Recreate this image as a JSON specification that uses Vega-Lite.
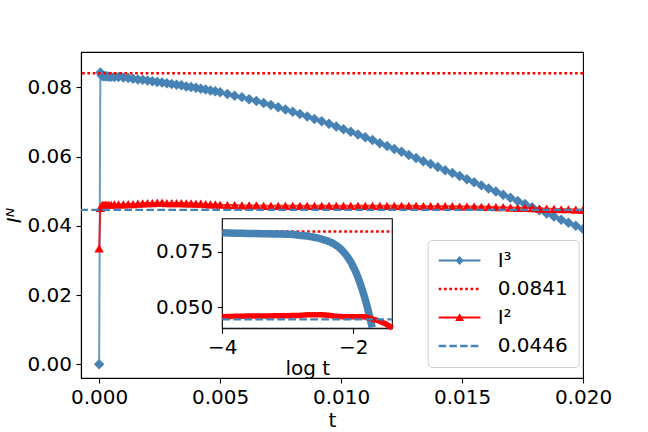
{
  "$schema": "https://vega.github.io/schema/vega-lite/v6.json",
  "width": 502,
  "height": 326,
  "autosize": {"type": "none"},
  "padding": {"left": 81, "top": 52, "right": 65, "bottom": 54},
  "background": "white",
  "datasets": {
    "ts": [
      {"t":0,"b":0,"r":0.0335},
      {"t":0.00005,"b":0.0843,"r":0.0452},
      {"t":0.0001,"b":0.0835,"r":0.0458},
      {"t":0.00013,"b":0.0834,"r":0.0459},
      {"t":0.00016,"b":0.0833,"r":0.046},
      {"t":0.0002,"b":0.0833,"r":0.046},
      {"t":0.00025,"b":0.0832,"r":0.0461},
      {"t":0.00032,"b":0.0832,"r":0.0461},
      {"t":0.0004,"b":0.0831,"r":0.0461},
      {"t":0.0005,"b":0.0831,"r":0.0461},
      {"t":0.00063,"b":0.083,"r":0.0462},
      {"t":0.0008,"b":0.083,"r":0.0462},
      {"t":0.001,"b":0.0829,"r":0.0462},
      {"t":0.0012,"b":0.0827,"r":0.0463},
      {"t":0.0014,"b":0.0825,"r":0.0463},
      {"t":0.0016,"b":0.0823,"r":0.0464},
      {"t":0.0018,"b":0.0822,"r":0.0465},
      {"t":0.002,"b":0.082,"r":0.0466},
      {"t":0.0022,"b":0.0818,"r":0.0466},
      {"t":0.0024,"b":0.0816,"r":0.0467},
      {"t":0.0026,"b":0.0814,"r":0.0467},
      {"t":0.0028,"b":0.0812,"r":0.0466},
      {"t":0.003,"b":0.081,"r":0.0466},
      {"t":0.0032,"b":0.0808,"r":0.0466},
      {"t":0.0034,"b":0.0806,"r":0.0466},
      {"t":0.0036,"b":0.0803,"r":0.0465},
      {"t":0.0038,"b":0.0801,"r":0.0465},
      {"t":0.004,"b":0.0799,"r":0.0464},
      {"t":0.0042,"b":0.0796,"r":0.0464},
      {"t":0.0044,"b":0.0794,"r":0.0463},
      {"t":0.0046,"b":0.0791,"r":0.0462},
      {"t":0.0048,"b":0.0789,"r":0.0462},
      {"t":0.005,"b":0.0786,"r":0.0461},
      {"t":0.0053,"b":0.0781,"r":0.046},
      {"t":0.0056,"b":0.0776,"r":0.046},
      {"t":0.0059,"b":0.0772,"r":0.0459},
      {"t":0.0062,"b":0.0766,"r":0.0459},
      {"t":0.0065,"b":0.0761,"r":0.0459},
      {"t":0.0068,"b":0.0755,"r":0.0458},
      {"t":0.0071,"b":0.0749,"r":0.0458},
      {"t":0.0074,"b":0.0743,"r":0.0458},
      {"t":0.0077,"b":0.0736,"r":0.0458},
      {"t":0.008,"b":0.073,"r":0.0458},
      {"t":0.0083,"b":0.0723,"r":0.0458},
      {"t":0.0086,"b":0.0716,"r":0.0458},
      {"t":0.0089,"b":0.0709,"r":0.0458},
      {"t":0.0092,"b":0.0702,"r":0.0458},
      {"t":0.0095,"b":0.0695,"r":0.0458},
      {"t":0.0098,"b":0.0687,"r":0.0458},
      {"t":0.0101,"b":0.0679,"r":0.0458},
      {"t":0.0104,"b":0.0672,"r":0.0458},
      {"t":0.0107,"b":0.0664,"r":0.0458},
      {"t":0.011,"b":0.0656,"r":0.0458},
      {"t":0.0113,"b":0.0648,"r":0.0458},
      {"t":0.0116,"b":0.0639,"r":0.0458},
      {"t":0.0119,"b":0.0631,"r":0.0458},
      {"t":0.0122,"b":0.0622,"r":0.0458},
      {"t":0.0125,"b":0.0614,"r":0.0458},
      {"t":0.0128,"b":0.0605,"r":0.0458},
      {"t":0.0131,"b":0.0596,"r":0.0458},
      {"t":0.0134,"b":0.0587,"r":0.0457},
      {"t":0.0137,"b":0.0579,"r":0.0457},
      {"t":0.014,"b":0.057,"r":0.0457},
      {"t":0.0143,"b":0.0561,"r":0.0457},
      {"t":0.0146,"b":0.0553,"r":0.0457},
      {"t":0.0149,"b":0.0544,"r":0.0456},
      {"t":0.0152,"b":0.0535,"r":0.0456},
      {"t":0.0155,"b":0.0526,"r":0.0456},
      {"t":0.0158,"b":0.0517,"r":0.0455},
      {"t":0.0161,"b":0.0508,"r":0.0455},
      {"t":0.0164,"b":0.0499,"r":0.0454},
      {"t":0.0167,"b":0.049,"r":0.0454},
      {"t":0.017,"b":0.0481,"r":0.0453},
      {"t":0.0173,"b":0.0472,"r":0.0452},
      {"t":0.0176,"b":0.0463,"r":0.0452},
      {"t":0.0179,"b":0.0454,"r":0.0451},
      {"t":0.0182,"b":0.0445,"r":0.045},
      {"t":0.0185,"b":0.0436,"r":0.045},
      {"t":0.0188,"b":0.0427,"r":0.0449},
      {"t":0.0191,"b":0.0418,"r":0.0448},
      {"t":0.0194,"b":0.0409,"r":0.0448},
      {"t":0.0197,"b":0.04,"r":0.0447},
      {"t":0.02,"b":0.0391,"r":0.0446},
      {"t":0.022,"b":null,"r":0.0443},
      {"t":0.025,"b":null,"r":0.0438},
      {"t":0.028,"b":null,"r":0.0432},
      {"t":0.031,"b":null,"r":0.0426},
      {"t":0.034,"b":null,"r":0.0419},
      {"t":0.037,"b":null,"r":0.0412},
      {"t":0.0394,"b":null,"r":0.0406}
    ],
    "refs": [
      {"s":"0.0841","v":0.0841},
      {"s":"0.0446","v":0.0446}
    ],
    "leg": [
      {"s":"I³"},
      {"s":"0.0841"},
      {"s":"I²"},
      {"s":"0.0446"}
    ]
  },
  "layer": [
    {
      "layer": [
        {
          "data": {"name": "ts"},
          "mark": {"type": "line", "color": "#4682b4", "strokeWidth": 2, "opacity": 0.8, "clip": true},
          "encoding": {
            "x": {"field": "t", "type": "quantitative",
                  "scale": {"domain": [-0.00075, 0.02], "nice": false, "zero": false},
                  "axis": {"orient": "bottom", "values": [0, 0.005, 0.01, 0.015, 0.02], "format": ".3f", "title": "t", "titlePadding": 2.5}},
            "y": {"field": "b", "type": "quantitative",
                  "scale": {"domain": [-0.00396, 0.09024], "nice": false, "zero": false},
                  "axis": {"orient": "left", "values": [0, 0.02, 0.04, 0.06, 0.08], "format": ".2f", "title": "Iᴺ", "titleFontStyle": "italic", "titlePadding": 2}}
          }
        },
        {
          "data": {"name": "ts"},
          "mark": {"type": "point", "shape": "diamond", "filled": true, "size": 110, "color": "#4682b4", "opacity": 1, "clip": true},
          "encoding": {
            "x": {"field": "t", "type": "quantitative"},
            "y": {"field": "b", "type": "quantitative"}
          }
        },
        {
          "data": {"name": "refs"},
          "transform": [{"filter": "datum.s == '0.0841'"}],
          "mark": {"type": "rule", "color": "#ff0000", "strokeWidth": 2.5, "strokeDash": [2.7, 2.6]},
          "encoding": {"y": {"field": "v", "type": "quantitative"}}
        },
        {
          "data": {"name": "ts"},
          "mark": {"type": "line", "color": "#ff0000", "strokeWidth": 2, "opacity": 0.8, "clip": true},
          "encoding": {
            "x": {"field": "t", "type": "quantitative"},
            "y": {"field": "r", "type": "quantitative"}
          }
        },
        {
          "data": {"name": "ts"},
          "mark": {"type": "point", "shape": "triangle-up", "filled": true, "size": 90, "color": "#ff0000", "opacity": 1, "clip": true},
          "encoding": {
            "x": {"field": "t", "type": "quantitative"},
            "y": {"field": "r", "type": "quantitative"}
          }
        },
        {
          "data": {"name": "refs"},
          "transform": [{"filter": "datum.s == '0.0446'"}],
          "mark": {"type": "rule", "color": "#4682b4", "strokeWidth": 2.2, "strokeDash": [7.7, 3.3]},
          "encoding": {"y": {"field": "v", "type": "quantitative"}}
        },
        {
          "data": {"name": "leg"},
          "mark": {"type": "point", "filled": true, "clip": true},
          "encoding": {
            "y": {"datum": 1, "type": "quantitative"},
            "color": {"field": "s", "type": "nominal",
                      "scale": {"domain": ["I³", "0.0841", "I²", "0.0446"], "range": ["#4682b4", "#ff0000", "#ff0000", "#4682b4"]},
                      "legend": {"title": null, "orient": "none", "legendX": 346.7, "legendY": 188}},
            "shape": {"field": "s", "type": "nominal",
                      "scale": {"domain": ["I³", "0.0841", "I²", "0.0446"],
                                "range": [
                                  "M-1,-0.11H3.4V0.11H-1Z M1.2,-0.47L1.64,0L1.2,0.47L0.76,0Z",
                                  "M-1,-0.137h0.284v0.274h-0.284Z M-0.442,-0.137h0.284v0.274h-0.284Z M0.116,-0.137h0.284v0.274h-0.284Z M0.674,-0.137h0.284v0.274h-0.284Z M1.232,-0.137h0.284v0.274h-0.284Z M1.79,-0.137h0.284v0.274h-0.284Z M2.348,-0.137h0.284v0.274h-0.284Z M2.906,-0.137h0.284v0.274h-0.284Z",
                                  "M-1,-0.11H3.4V0.11H-1Z M1.2,-0.44L1.66,0.36L0.74,0.36Z",
                                  "M-1,-0.12h0.79v0.24h-0.79Z M0.127,-0.12h0.79v0.24h-0.79Z M1.254,-0.12h0.79v0.24h-0.79Z M2.381,-0.12h0.79v0.24h-0.79Z"
                                ]},
                      "legend": {"title": null, "orient": "none", "legendX": 346.7, "legendY": 188}}
          }
        }
      ]
    },
    {
      "layer": [
        {
          "data": {"values": [{}]},
          "mark": {"type": "rect", "fill": "white", "stroke": "black", "strokeWidth": 1.1},
          "encoding": {
            "x": {"datum": 0.0001, "type": "quantitative",
                  "scale": {"type": "log", "domain": [0.0001, 0.03936], "range": [141.3, 311.3], "nice": false},
                  "axis": {"orient": "bottom", "offset": -49.7, "values": [0.0001, 0.01], "labelExpr": "'−' + format(-log(datum.value)/LN10, '.0f')", "title": "log t", "titlePadding": 1}},
            "x2": {"datum": 0.03936},
            "y": {"datum": 0.04056, "type": "quantitative",
                  "scale": {"domain": [0.04056, 0.08984], "range": [276.3, 166.7], "nice": false, "zero": false},
                  "axis": {"orient": "left", "offset": -141.3, "values": [0.05, 0.075], "format": ".3f", "title": null}},
            "y2": {"datum": 0.08984}
          }
        },
        {
          "data": {"name": "refs"},
          "transform": [{"filter": "datum.s == '0.0841'"}],
          "mark": {"type": "rule", "color": "#ff0000", "strokeWidth": 2.5, "strokeDash": [2.7, 2.6]},
          "encoding": {
            "x": {"datum": 0.0001, "type": "quantitative"},
            "x2": {"datum": 0.03936},
            "y": {"field": "v", "type": "quantitative"}
          }
        },
        {
          "data": {"name": "ts"},
          "transform": [{"filter": "datum.t >= 0.0001 && datum.b != null && datum.b >= 0.0406"}],
          "mark": {"type": "line", "color": "#4682b4", "strokeWidth": 7.5, "strokeCap": "butt"},
          "encoding": {
            "x": {"field": "t", "type": "quantitative"},
            "y": {"field": "b", "type": "quantitative"}
          }
        },
        {
          "data": {"name": "ts"},
          "transform": [{"filter": "datum.t >= 0.0001 && datum.t <= 0.0394"}],
          "mark": {"type": "line", "color": "#ff0000", "strokeWidth": 5.5, "strokeCap": "butt"},
          "encoding": {
            "x": {"field": "t", "type": "quantitative"},
            "y": {"field": "r", "type": "quantitative"}
          }
        },
        {
          "data": {"name": "refs"},
          "transform": [{"filter": "datum.s == '0.0446'"}],
          "mark": {"type": "rule", "color": "#4682b4", "strokeWidth": 2.2, "strokeDash": [7.7, 3.3]},
          "encoding": {
            "x": {"datum": 0.0001, "type": "quantitative"},
            "x2": {"datum": 0.03936},
            "y": {"field": "v", "type": "quantitative"}
          }
        }
      ]
    }
  ],
  "resolve": {"scale": {"x": "independent", "y": "independent"}},
  "config": {
    "font": "DejaVu Sans",
    "view": {"stroke": "black", "strokeWidth": 1.1},
    "axis": {
      "labelFont": "DejaVu Sans", "labelFontSize": 20, "labelColor": "black",
      "titleFont": "DejaVu Sans", "titleFontSize": 20, "titleColor": "black", "titleFontWeight": "normal",
      "tickColor": "black", "tickSize": 5, "tickWidth": 1.1,
      "domainColor": "black", "domainWidth": 1.1,
      "labelPadding": 4.5, "grid": false, "labelFlush": false, "labelOverlap": false
    },
    "legend": {
      "labelFont": "DejaVu Sans", "labelFontSize": 20, "labelColor": "black", "labelLimit": 0,
      "symbolSize": 361, "symbolStrokeWidth": 0, "symbolOpacity": 1,
      "padding": 10.5, "rowPadding": 8.5, "labelOffset": 39.5,
      "strokeColor": "#d0d0d0", "fillColor": "rgba(255,255,255,0.8)", "cornerRadius": 4
    }
  }
}
